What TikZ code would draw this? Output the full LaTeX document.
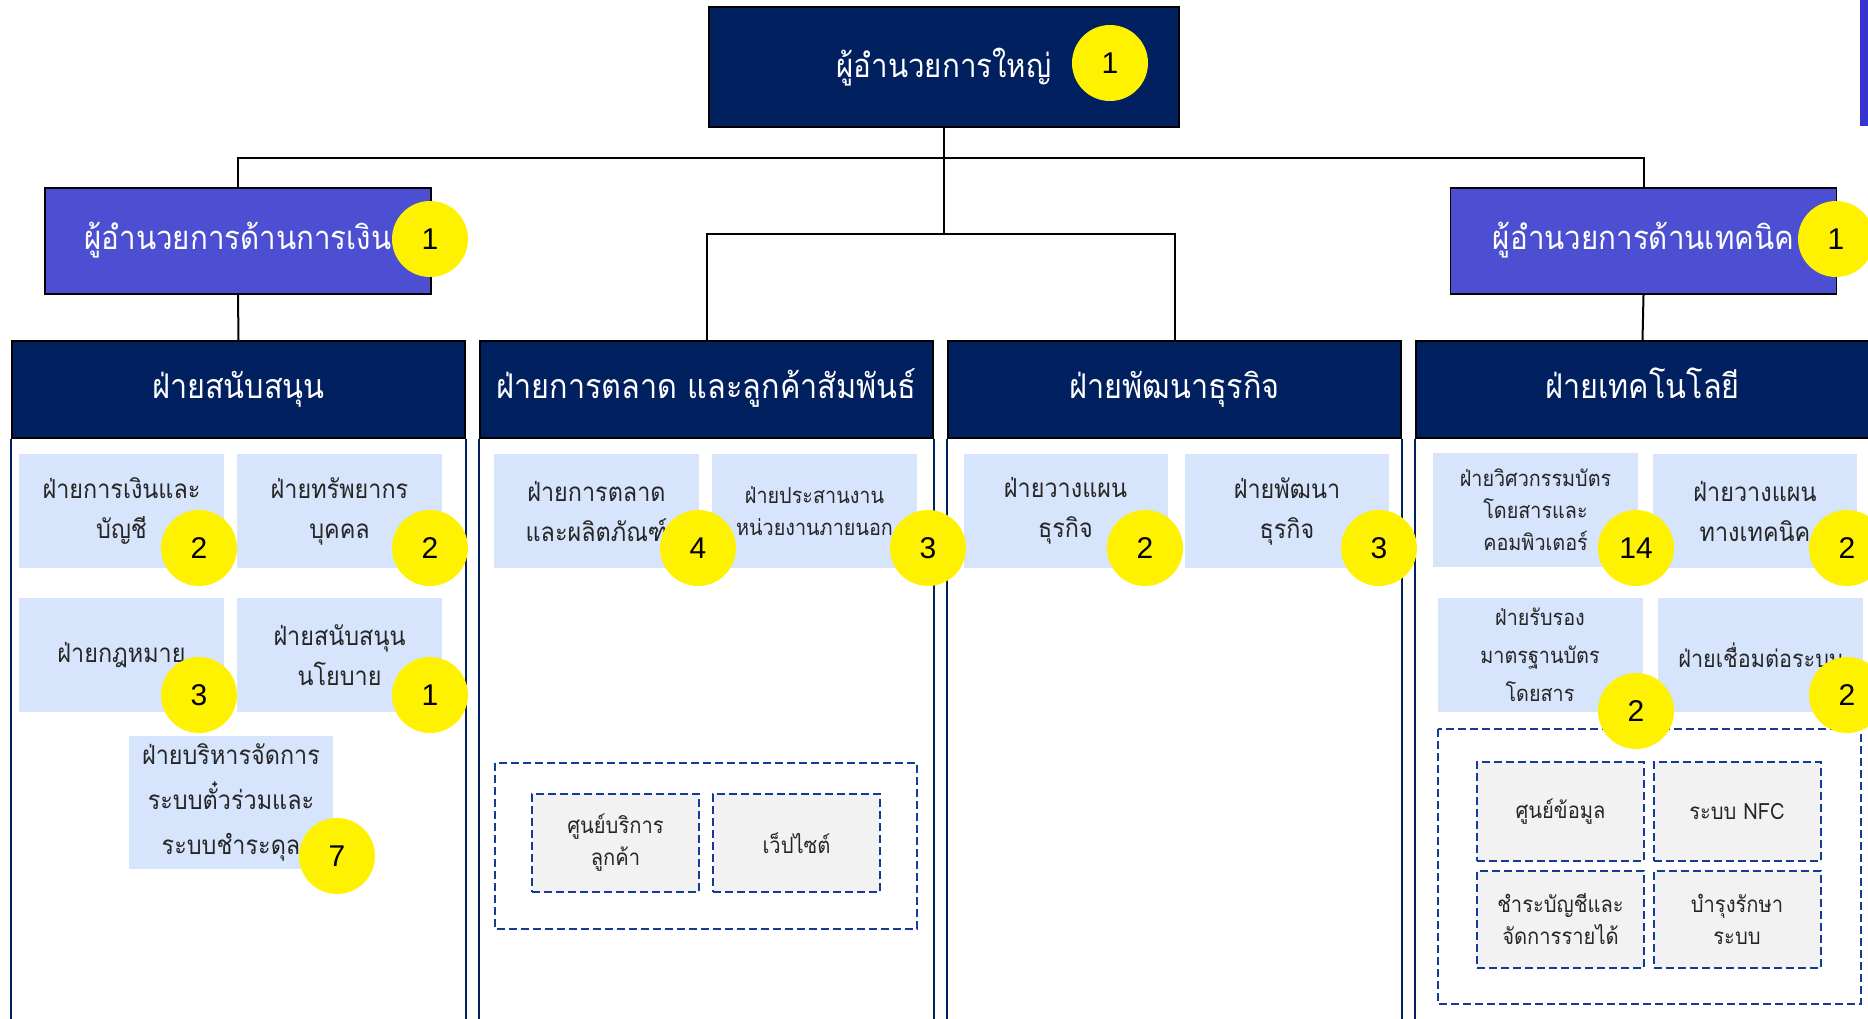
\documentclass[tikz,border=0pt]{standalone}
\usepackage{fontspec}
\setmainfont{Liberation Sans}
\newfontfamily\thaifont[Script=Thai, FakeStretch=0.9]{Loma}
\definecolor{navy}{RGB}{0,32,96}
\definecolor{dirblue}{RGB}{76,79,209}
\definecolor{unitblue}{RGB}{214,228,252}
\definecolor{dashblue}{RGB}{20,60,150}
\definecolor{svcgray}{RGB}{242,242,242}
\definecolor{barblue}{RGB}{56,52,208}
\tikzset{
  ceo/.style={draw=black, line width=0.8pt, fill=navy, text=white, inner sep=0pt,
    font={\thaifont\fontsize{16.4}{18}\selectfont}, minimum width=235pt, minimum height=60pt},
  director/.style={draw=black, line width=0.8pt, fill=dirblue, text=white, inner sep=0pt,
    text height=12pt, text depth=4pt,
    font={\thaifont\fontsize{16.4}{18}\selectfont}, minimum width=193pt, minimum height=53pt},
  depthead/.style={draw=black, line width=0.8pt, fill=navy, text=white, inner sep=0pt,
    text height=12.5pt, text depth=4pt,
    font={\thaifont\fontsize{17}{18}\selectfont}, minimum width=226.5pt, minimum height=48.5pt},
  bodyline/.style={draw=navy, line width=1pt},
  unitbox/.style={fill=unitblue, text=black!85, inner sep=0pt, align=center,
    font={\thaifont\fontsize{13}{20}\selectfont}, minimum width=102.5pt, minimum height=57pt},
  smallunit/.style={unitbox, font={\thaifont\fontsize{11}{16}\selectfont}},
  count/.style={circle, fill=yellow, text=black, inner sep=0pt, minimum size=38pt,
    font=\fontsize{15}{18}\selectfont},
  groupbox/.style={draw=dashblue, line width=1pt, dash pattern=on 4pt off 2pt},
  service/.style={draw=dashblue, line width=1pt, dash pattern=on 4pt off 2pt, fill=svcgray,
    text=black!85, inner sep=0pt, align=center, font={\thaifont\fontsize{11.2}{16}\selectfont},
    minimum width=83.5pt, minimum height=49pt},
  link/.style={draw=black, line width=1pt}
}
\begin{document}
\begin{tikzpicture}[x=0.5pt, y=-0.5pt]
\clip (0,0) rectangle (1868,1018);
\fill[white] (0,0) rectangle (1868,1018);
\fill[barblue] (1860,0) rectangle (1868,126);

\node[ceo] (ceo) at (944,67) {ผู้อำนวยการใหญ่};
\node[director] (dirfin) at (238,241) {ผู้อำนวยการด้านการเงิน};
\node[director] (dirtech) at (1643.5,241) {ผู้อำนวยการด้านเทคนิค};

\node[depthead] (support) at (238.5,389.5) {ฝ่ายสนับสนุน};
\node[depthead] (market) at (706.5,389.5) {ฝ่ายการตลาด และลูกค้าสัมพันธ์};
\node[depthead] (busdev) at (1174.5,389.5) {ฝ่ายพัฒนาธุรกิจ};
\node[depthead] (tech) at (1642.5,389.5) {ฝ่ายเทคโนโลยี};

\draw[bodyline] (support.south west) -- ++(0,700) (support.south east) -- ++(0,700);
\draw[bodyline] (market.south west) -- ++(0,700) (market.south east) -- ++(0,700);
\draw[bodyline] (busdev.south west) -- ++(0,700) (busdev.south east) -- ++(0,700);
\draw[bodyline] (tech.south west) -- ++(0,700) (tech.south east) -- ++(0,700);

\draw[link] (ceo.south) -- ++(0,30) -| (dirfin.north);
\draw[link] (ceo.south) -- ++(0,30) -| (dirtech.north);
\draw[link] (ceo.south) -- ++(0,106) -| (market.north);
\draw[link] (ceo.south) -- ++(0,106) -| (busdev.north);
\draw[link] (dirfin.south) -- (support.north);
\draw[link] (dirtech.south) -- (tech.north);

% support units
\node[unitbox] (finance) at (121.5,511) {ฝ่ายการเงินและ\\บัญชี};
\node[unitbox] (hr) at (339.5,511) {ฝ่ายทรัพยากร\\บุคคล};
\node[unitbox] (legal) at (121.5,655) {ฝ่ายกฎหมาย};
\node[unitbox] (policy) at (339.5,655) {ฝ่ายสนับสนุน\\นโยบาย};
\node[unitbox, minimum width=102pt, minimum height=66.5pt,
  font={\thaifont\fontsize{13}{22.5}\selectfont}] (ticket) at (231,802.5)
  {ฝ่ายบริหารจัดการ\\ระบบตั๋วร่วมและ\\ระบบชำระดุล};

% marketing units
\node[unitbox] (product) at (596.5,511) {ฝ่ายการตลาด\\และผลิตภัณฑ์};
\node[smallunit] (liaison) at (814.5,511) {ฝ่ายประสานงาน\\หน่วยงานภายนอก};
\draw[groupbox] (495,763) rectangle (917,929);
\node[service] (callcen) at (615.5,843) {ศูนย์บริการ\\ลูกค้า};
\node[service] (website) at (796.5,843) {เว็ปไซต์};

% business units
\node[unitbox, minimum width=102pt] (bplan) at (1065.5,511) {ฝ่ายวางแผน\\ธุรกิจ};
\node[unitbox, minimum width=102pt] (bdev) at (1287,511) {ฝ่ายพัฒนา\\ธุรกิจ};

% technology units
\node[smallunit] (cardeng) at (1535.5,510) {ฝ่ายวิศวกรรมบัตร\\โดยสารและ\\คอมพิวเตอร์};
\node[unitbox, minimum width=102pt] (techplan) at (1755,511) {ฝ่ายวางแผน\\ทางเทคนิค};
\node[unitbox, font={\thaifont\fontsize{11}{19}\selectfont}] (cardstd) at (1540,655) {ฝ่ายรับรอง\\มาตรฐานบัตร\\โดยสาร};
\node[unitbox, font={\thaifont\fontsize{12}{20}\selectfont}] (connect) at (1760.5,655) {ฝ่ายเชื่อมต่อระบบ};
\draw[groupbox] (1438,729) rectangle (1861,1004);
\node[service, minimum height=49.5pt] (datacen) at (1560.5,811.5) {ศูนย์ข้อมูล};
\node[service, minimum height=49.5pt] (nfc) at (1737,811.5) {ระบบ NFC};
\node[service, minimum height=48.5pt] (clearing) at (1560.5,919.5) {ชำระบัญชีและ\\จัดการรายได้};
\node[service, minimum height=48.5pt] (maint) at (1737,919.5) {บำรุงรักษา\\ระบบ};

% head counts
\node[count] (nceo) at (1110,63) {1};
\node[count] (nfin) at (430,239) {1};
\node[count] (ntech) at (1836,239) {1};
\node[count] (nfinance) at (199,548) {2};
\node[count] (nhr) at (430,548) {2};
\node[count] (nlegal) at (199,695) {3};
\node[count] (npolicy) at (430,695) {1};
\node[count] (nticket) at (337,856) {7};
\node[count] (nproduct) at (698,548) {4};
\node[count] (nliaison) at (928,548) {3};
\node[count] (nbplan) at (1145,548) {2};
\node[count] (nbdev) at (1379,548) {3};
\node[count] (ncardeng) at (1636,548) {14};
\node[count] (ntechplan) at (1847,548) {2};
\node[count] (ncardstd) at (1636,711) {2};
\node[count] (nconnect) at (1847,695) {2};
\end{tikzpicture}
\end{document}
